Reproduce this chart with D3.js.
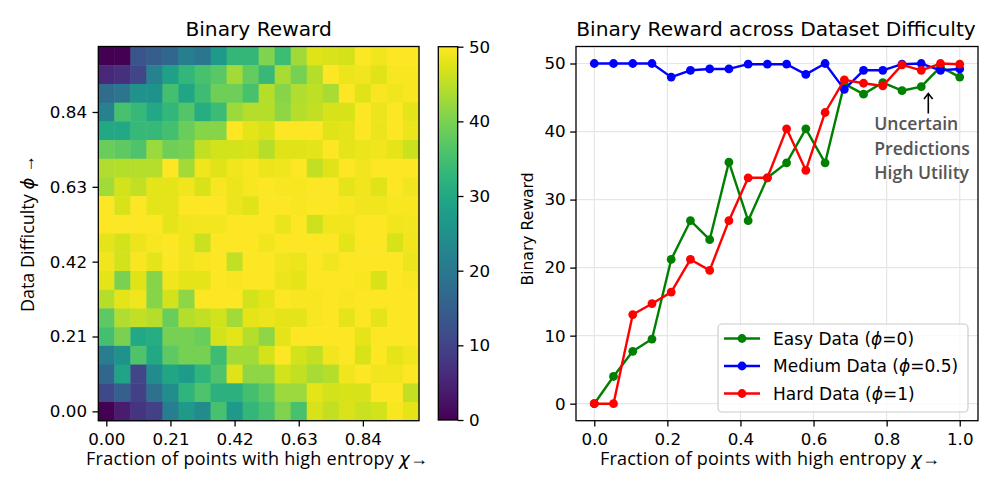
<!DOCTYPE html>
<html>
<head>
<meta charset="utf-8">
<script src="https://cdn.jsdelivr.net/npm/d3@7"></script>
<style>
  body { margin: 0; background: #fff; }
  svg { display: block; }
</style>
</head>
<body>
<svg id="chart" width="996" height="498"></svg>
<script>
// ---------------- DATA ----------------
// Fraction of points with high entropy (chi), 20 levels
const chiValues = [0, 0.0526, 0.1053, 0.1579, 0.2105, 0.2632, 0.3158, 0.3684, 0.4211, 0.4737,
                   0.5263, 0.5789, 0.6316, 0.6842, 0.7368, 0.7895, 0.8421, 0.8947, 0.9474, 1.0];
// Heatmap tick positions (cell index) and labels
const heatTickIndex = [0, 4, 8, 12, 16];
const heatTickLabels = ["0.00", "0.21", "0.42", "0.63", "0.84"];
const colorbarTicks = [0, 10, 20, 30, 40, 50];
const lineXTicks = [0.0, 0.2, 0.4, 0.6, 0.8, 1.0];
const lineYTicks = [0, 10, 20, 30, 40, 50];

// Line chart series
const easyData   = [0, 4.0, 7.7, 9.5, 21.2, 26.9, 24.1, 35.5, 26.9, 33.2, 35.4, 40.4, 35.4, 47.0, 45.5, 47.2, 46.0, 46.6, 49.5, 48.0];
const mediumData = [50, 50, 50, 50, 48.0, 49.0, 49.2, 49.2, 49.9, 49.9, 49.9, 48.4, 50, 46.2, 49.0, 49.0, 49.9, 50, 49.0, 49.2];
const hardData   = [0, 0, 13.1, 14.7, 16.4, 21.2, 19.6, 26.9, 33.2, 33.2, 40.4, 34.3, 42.8, 47.6, 47.1, 46.7, 49.8, 49.0, 50, 49.9];

// Heatmap rows, listed from the top row (difficulty = 1) down to the bottom row (difficulty = 0)
const rewardGrid = [
  [0, 0, 13.1, 14.7, 16.4, 21.2, 19.6, 26.9, 33.2, 33.2, 40.4, 34.3, 42.8, 47.6, 47.1, 46.7, 49.8, 49.0, 50, 49.9],
  [5.5, 7, 10.5, 22, 28.5, 33, 35.5, 37, 43, 38, 33.5, 43.5, 39.5, 44.5, 50, 48.5, 49, 47.5, 49.5, 49.5],
  [17.5, 19.5, 25.5, 25.5, 35, 29.5, 34.5, 39, 39, 35.5, 44.5, 41, 44, 45, 43.5, 50, 47.5, 49.5, 49, 49.5],
  [22, 35.5, 33.5, 30, 33, 36.5, 31, 34, 42.5, 44.5, 44.5, 41.5, 44.5, 45.5, 47, 47, 50, 48.5, 50, 48],
  [30, 30, 33.5, 33.5, 35, 38.5, 41, 41, 50, 48, 47, 50, 50, 50, 47.5, 48, 50, 48.5, 50, 48.5],
  [38.5, 37.5, 36, 42.5, 39, 39.5, 45.5, 46.5, 46.5, 47, 44.5, 47.5, 47.5, 48, 50, 48, 48.5, 49, 48, 46],
  [44, 44.5, 44.5, 44.5, 50, 43, 49, 47.5, 49, 49.5, 48.5, 49, 50, 45.5, 47.5, 50, 49, 50, 50, 50],
  [43, 46.5, 45.5, 48, 48, 49, 47, 49.5, 48.5, 49.5, 50, 49.5, 49.5, 50, 50, 48, 49, 47.5, 50, 49],
  [50, 47, 50, 48, 48, 50, 50, 50, 48.5, 47.5, 50, 50, 49.5, 50, 50, 49.5, 49, 49, 49.5, 49.5],
  [50, 50, 50, 50, 48, 49, 49.2, 49.2, 49.9, 49.9, 49.9, 48.4, 50, 46.2, 49, 49, 49.9, 50, 49, 49.2],
  [48, 46.5, 48.5, 49.5, 50, 49, 46, 50, 50, 50, 49, 50, 50, 50, 50, 48, 50, 50, 47, 49],
  [49, 46.5, 49.5, 48, 50, 49, 49.5, 50, 45.5, 50, 50, 49, 48.5, 50, 49, 50, 50, 50, 50, 48.5],
  [48, 40, 47.5, 41, 49, 48, 48, 50, 49.5, 50, 50, 48.5, 48, 50, 50, 50, 49.5, 47, 50, 49.5],
  [44.5, 48, 49, 41, 46.5, 41.5, 50, 50, 50, 46.5, 48, 50, 49.5, 49.5, 50, 49.5, 50, 50, 50, 50],
  [37.5, 44, 45.5, 44.5, 38.5, 44.5, 45.5, 46.5, 43, 48, 48.5, 48, 48, 49.5, 50, 48, 50, 48, 50, 50],
  [35, 40, 30, 31, 39.5, 39.5, 38.5, 46.5, 48, 44.5, 41.5, 48, 50, 50, 50, 50, 48, 50, 50, 50],
  [21, 25.5, 36, 30, 37.5, 39.5, 39.5, 34.5, 43, 43, 46.5, 50, 46.5, 45.5, 49, 50, 47, 50, 48, 49],
  [16.5, 29, 10.5, 24, 29.5, 27.5, 32.5, 36, 47.5, 41.5, 41.5, 46.5, 45.5, 43.5, 44.5, 49, 50, 49, 49, 50],
  [11, 15, 9.5, 18.5, 24.5, 32.5, 36, 32, 32, 35, 37.5, 42.5, 42.5, 48, 46.5, 47, 47, 50, 50, 45.5],
  [0, 4.0, 7.7, 9.5, 21.2, 26.9, 24.1, 35.5, 26.9, 33.2, 35.4, 40.4, 35.4, 47.0, 45.5, 47.2, 46.0, 46.6, 49.5, 48.0]
];

const seriesInfo = [
  { name: "Easy Data", phi: "0", color: "#008000", values: easyData },
  { name: "Medium Data", phi: "0.5", color: "#0000ff", values: mediumData },
  { name: "Hard Data", phi: "1", color: "#ff0000", values: hardData }
];

// ---------------- DRAWING ----------------
const svg = d3.select("#chart");
const FONT = "'DejaVu Sans', sans-serif";
const LFONT = "'Open Sans', sans-serif";
const FS = 16.7;

function styleAxis(g) {
  g.attr("font-family", FONT).attr("font-size", FS);
  g.select(".domain").remove();
  g.selectAll(".tick line").attr("stroke", "#000").attr("stroke-width", 1.3);
  g.selectAll(".tick text").attr("fill", "#000");
}

// ===== Left: heatmap =====
const hm = { x0: 98.3, x1: 419, y0: 46.5, y1: 420.7 };
const nCols = chiValues.length, nRows = rewardGrid.length;
const hx = d3.scaleLinear().domain([-0.5, nCols - 0.5]).range([hm.x0, hm.x1]);
const hy = d3.scaleLinear().domain([-0.5, nRows - 0.5]).range([hm.y1, hm.y0]);
const color = d3.scaleSequential(d3.interpolateViridis).domain([0, 50]);

const cells = [];
rewardGrid.forEach((row, r) => {
  const k = nRows - 1 - r;
  row.forEach((v, c) => cells.push({ c, k, v }));
});
svg.append("g").selectAll("rect").data(cells).join("rect")
  .attr("x", d => hx(d.c - 0.5))
  .attr("y", d => hy(d.k + 0.5))
  .attr("width", d => hx(d.c + 0.5) - hx(d.c - 0.5) + 0.5)
  .attr("height", d => hy(d.k - 0.5) - hy(d.k + 0.5) + 0.5)
  .attr("fill", d => color(d.v));

svg.append("rect")
  .attr("x", hm.x0).attr("y", hm.y0)
  .attr("width", hm.x1 - hm.x0).attr("height", hm.y1 - hm.y0)
  .attr("fill", "none").attr("stroke", "#000").attr("stroke-width", 1.3);

svg.append("g").attr("transform", `translate(0,${hm.y1})`)
  .call(d3.axisBottom(hx).tickValues(heatTickIndex).tickFormat((d, i) => heatTickLabels[i])
    .tickSize(5.8).tickPadding(6.5))
  .call(styleAxis);
svg.append("g").attr("transform", `translate(${hm.x0},0)`)
  .call(d3.axisLeft(hy).tickValues(heatTickIndex).tickFormat((d, i) => heatTickLabels[i])
    .tickSize(5.8).tickPadding(5.5))
  .call(styleAxis);

svg.append("text")
  .attr("x", (hm.x0 + hm.x1) / 2).attr("y", 36)
  .attr("text-anchor", "middle").attr("font-family", FONT).attr("font-size", 20.2)
  .text("Binary Reward");

// x label (left)
const xl1 = svg.append("text")
  .attr("x", 257).attr("y", 465)
  .attr("text-anchor", "middle").attr("font-family", LFONT).attr("font-size", 18)
  .attr("textLength", 342).attr("lengthAdjust", "spacing");
xl1.append("tspan").text("Fraction of points with high entropy ");
xl1.append("tspan").attr("font-style", "italic").attr("font-family", FONT).text("χ");
xl1.append("tspan").text("→");

// y label (left)
const yl1 = svg.append("text")
  .attr("transform", `translate(34,${(hm.y0 + hm.y1) / 2}) rotate(-90)`)
  .attr("text-anchor", "middle").attr("font-family", LFONT).attr("font-size", 18)
  .attr("textLength", 157).attr("lengthAdjust", "spacing");
yl1.append("tspan").text("Data Difficulty ");
yl1.append("tspan").attr("font-style", "italic").attr("font-family", FONT).text("ϕ");
yl1.append("tspan").text(" →");

// Colorbar
const cb = { x0: 438.3, x1: 457.7, y0: 46.7, y1: 420 };
const cbScale = d3.scaleLinear().domain([0, 50]).range([cb.y1, cb.y0]);
const defs = svg.append("defs");
const grad = defs.append("linearGradient").attr("id", "viridisGrad")
  .attr("x1", 0).attr("y1", 1).attr("x2", 0).attr("y2", 0);
d3.range(0, 1.0001, 0.05).forEach(t => {
  grad.append("stop").attr("offset", t).attr("stop-color", d3.interpolateViridis(t));
});
svg.append("rect")
  .attr("x", cb.x0).attr("y", cb.y0).attr("width", cb.x1 - cb.x0).attr("height", cb.y1 - cb.y0)
  .attr("fill", "url(#viridisGrad)").attr("stroke", "#000").attr("stroke-width", 1.3);
svg.append("g").attr("transform", `translate(${cb.x1},0)`)
  .call(d3.axisRight(cbScale).tickValues(colorbarTicks).tickSize(5.8).tickPadding(5.5))
  .call(styleAxis);

// ===== Right: line chart =====
const lc = { x0: 576, x1: 978, y0: 46.5, y1: 420.7 };
const lx = d3.scaleLinear().domain([-0.05, 1.05]).range([lc.x0, lc.x1]);
const ly = d3.scaleLinear().domain([-2.5, 52.5]).range([lc.y1, lc.y0]);

// grid
const grid = svg.append("g").attr("stroke", "#e6e6e6").attr("stroke-width", 1.2);
lineXTicks.forEach(t => grid.append("line").attr("x1", lx(t)).attr("x2", lx(t)).attr("y1", lc.y0).attr("y2", lc.y1));
lineYTicks.forEach(t => grid.append("line").attr("x1", lc.x0).attr("x2", lc.x1).attr("y1", ly(t)).attr("y2", ly(t)));

const lineGen = d3.line().x((d, i) => lx(chiValues[i])).y(d => ly(d));
seriesInfo.forEach(s => {
  const g = svg.append("g");
  g.append("path").attr("d", lineGen(s.values))
    .attr("fill", "none").attr("stroke", s.color).attr("stroke-width", 2.4)
    .attr("stroke-linejoin", "round");
  g.selectAll("circle").data(s.values).join("circle")
    .attr("cx", (d, i) => lx(chiValues[i])).attr("cy", d => ly(d))
    .attr("r", 4.4).attr("fill", s.color);
});

svg.append("rect")
  .attr("x", lc.x0).attr("y", lc.y0).attr("width", lc.x1 - lc.x0).attr("height", lc.y1 - lc.y0)
  .attr("fill", "none").attr("stroke", "#000").attr("stroke-width", 1.3);

svg.append("g").attr("transform", `translate(0,${lc.y1})`)
  .call(d3.axisBottom(lx).tickValues(lineXTicks).tickFormat(d3.format(".1f"))
    .tickSize(5.8).tickPadding(6.5))
  .call(styleAxis);
svg.append("g").attr("transform", `translate(${lc.x0},0)`)
  .call(d3.axisLeft(ly).tickValues(lineYTicks).tickSize(5.8).tickPadding(4.5))
  .call(styleAxis);

svg.append("text")
  .attr("x", (lc.x0 + lc.x1) / 2 - 1).attr("y", 36)
  .attr("text-anchor", "middle").attr("font-family", FONT).attr("font-size", 20.2)
  .text("Binary Reward across Dataset Difficulty");

const xl2 = svg.append("text")
  .attr("x", 770).attr("y", 465)
  .attr("text-anchor", "middle").attr("font-family", LFONT).attr("font-size", 18)
  .attr("textLength", 340).attr("lengthAdjust", "spacing");
xl2.append("tspan").text("Fraction of points with high entropy ");
xl2.append("tspan").attr("font-style", "italic").attr("font-family", FONT).text("χ");
xl2.append("tspan").text("→");

svg.append("text")
  .attr("transform", `translate(532.7,229) rotate(-90)`)
  .attr("text-anchor", "middle").attr("font-family", FONT).attr("font-size", 15.6)
  .text("Binary Reward");

// Annotation
const annLines = ["Uncertain", "Predictions", "High Utility"];
const ann = svg.append("g").attr("font-family", LFONT).attr("font-size", 17.6)
  .attr("font-weight", 600).attr("fill", "#555555");
annLines.forEach((t, i) => ann.append("text").attr("x", 874.3).attr("y", 130 + i * 24.7).text(t));
svg.append("line").attr("x1", 928.3).attr("x2", 928.3).attr("y1", 113.5).attr("y2", 94)
  .attr("stroke", "#000").attr("stroke-width", 1.6);
svg.append("path").attr("d", "M924,99 L928.3,93.6 L932.6,99")
  .attr("fill", "none").attr("stroke", "#000").attr("stroke-width", 1.6);

// Legend
const lg = svg.append("g");
lg.append("rect").attr("x", 718).attr("y", 324).attr("width", 250).attr("height", 88)
  .attr("rx", 4).attr("fill", "#fff").attr("fill-opacity", 0.8)
  .attr("stroke", "#cccccc").attr("stroke-width", 1.2);
seriesInfo.forEach((s, i) => {
  const cy = 338.5 + i * 27.5;
  lg.append("line").attr("x1", 724).attr("x2", 760).attr("y1", cy).attr("y2", cy)
    .attr("stroke", s.color).attr("stroke-width", 2.4);
  lg.append("circle").attr("cx", 742).attr("cy", cy).attr("r", 4.4).attr("fill", s.color);
  const t = lg.append("text").attr("x", 773).attr("y", cy).attr("dy", "0.36em")
    .attr("font-family", FONT).attr("font-size", 17);
  t.append("tspan").text(s.name + " (");
  t.append("tspan").attr("font-style", "italic").text("ϕ");
  t.append("tspan").text("=" + s.phi + ")");
});
</script>
</body>
</html>
